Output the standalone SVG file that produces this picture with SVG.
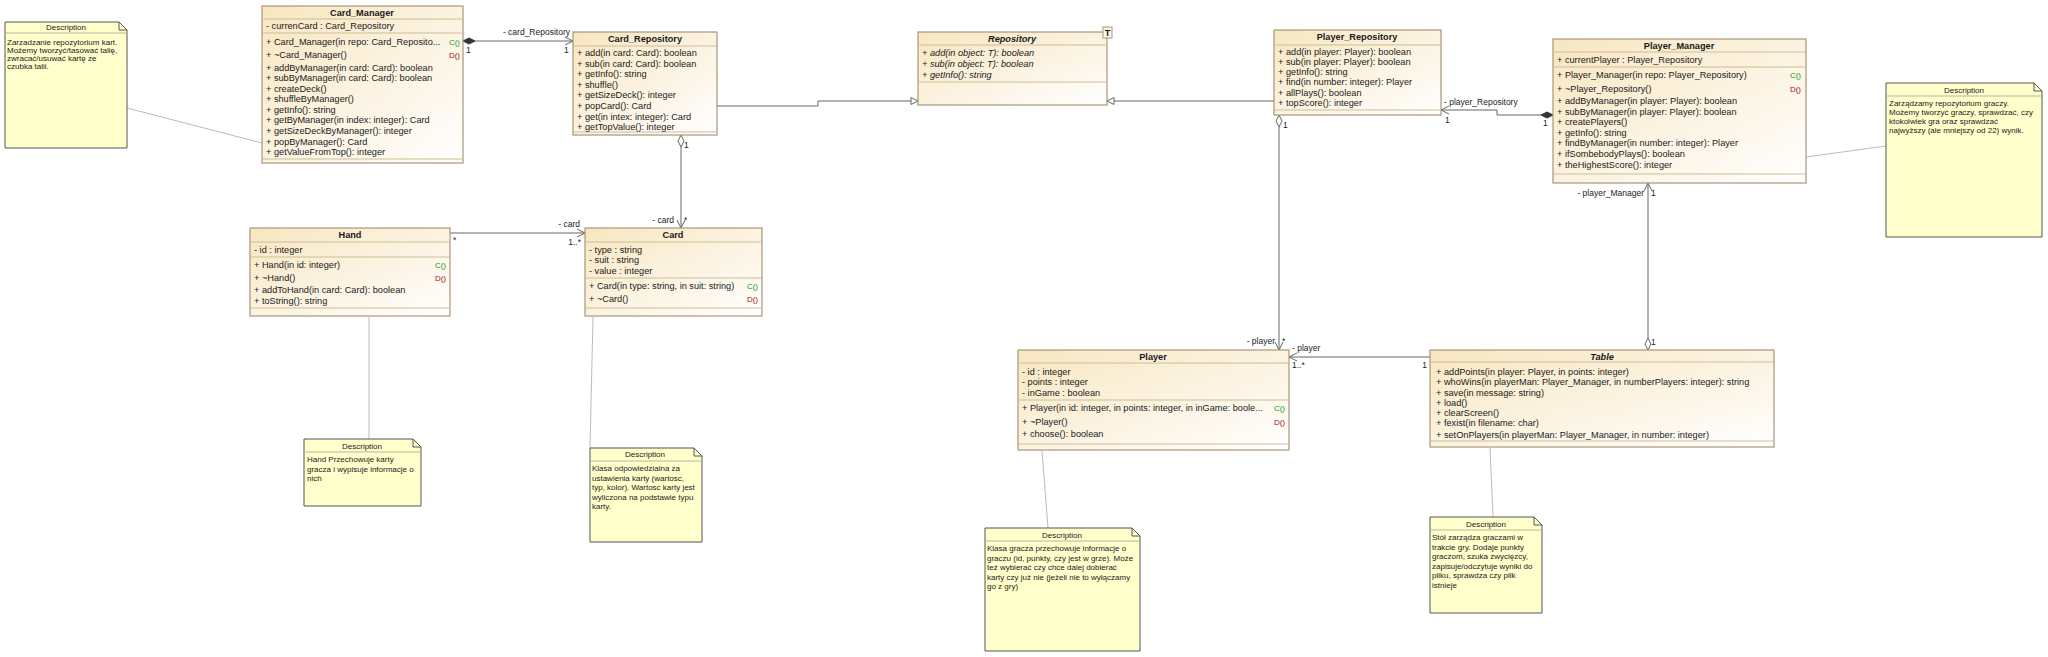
<svg xmlns="http://www.w3.org/2000/svg" width="2048" height="657" viewBox="0 0 2048 657">
<defs>
<linearGradient id="g" x1="0" y1="0" x2="1" y2="1">
<stop offset="0" stop-color="#F8E6C0"/>
<stop offset="1" stop-color="#FFFFFF"/>
</linearGradient>
<style>
.cls{fill:url(#g);stroke:#A8977A;stroke-width:1.2}
.sep{stroke:#CDBD98;stroke-width:1}
.t{font-family:"Liberation Sans",Arial,sans-serif;font-size:9.2px;fill:#1a1a1a}
.b{font-weight:bold}
.i{font-style:italic}
.c{text-anchor:middle}
.e{text-anchor:end}
.cc{font-family:"Liberation Sans",Arial,sans-serif;font-size:8px;fill:#119911;text-anchor:end}
.dd{font-family:"Liberation Sans",Arial,sans-serif;font-size:8px;fill:#A01010;text-anchor:end}
.note{fill:#FFFFCC;stroke:#555;stroke-width:1}
.nsep{stroke:#B8B89A;stroke-width:1}
.nt{font-family:"Liberation Sans",Arial,sans-serif;font-size:8px;fill:#1a1a1a}
.cn{stroke:#666;stroke-width:1;fill:none}
.lk{stroke:#BBBBBB;stroke-width:1;fill:none}
.lb{font-family:"Liberation Sans",Arial,sans-serif;font-size:8.5px;fill:#222}
</style>
</defs>
<rect width="2048" height="657" fill="#FFFFFF"/>

<g id="connectors">
<line class="lk" x1="127" y1="108" x2="262" y2="143"/>
<line class="lk" x1="369" y1="317" x2="369" y2="439"/>
<line class="lk" x1="593" y1="317" x2="590" y2="448"/>
<line class="lk" x1="1042" y1="451" x2="1048" y2="528"/>
<line class="lk" x1="1490" y1="448" x2="1493" y2="517"/>
<line class="lk" x1="1806" y1="157" x2="1886" y2="146"/>

<line class="cn" x1="475" y1="41" x2="573" y2="41"/>
<polygon points="463,41 469,38 475,41 469,44" fill="#333" stroke="#333"/>
<polyline class="cn" points="565,37 573,41 565,45"/>
<text class="lb e" x="570" y="35">- card_Repository</text>
<text class="lb" x="466" y="53">1</text>
<text class="lb" x="564" y="53">1</text>

<polyline class="cn" points="717,106 818,106 818,101 911,101"/>
<polygon points="918,101 911,97.5 911,104.5" fill="#fff" stroke="#666"/>

<line class="cn" x1="1274" y1="101" x2="1114" y2="101"/>
<polygon points="1107,101 1114,97.5 1114,104.5" fill="#fff" stroke="#666"/>

<line class="cn" x1="681" y1="147" x2="681" y2="228"/>
<polygon points="681,135 684,141 681,147 678,141" fill="#fff" stroke="#666"/>
<polyline class="cn" points="677,220 681,228 685,220"/>
<text class="lb" x="684" y="148">1</text>
<text class="lb e" x="674" y="223">- card</text>
<text class="lb" x="684" y="223">*</text>

<line class="cn" x1="450" y1="233" x2="585" y2="233"/>
<polyline class="cn" points="577,229 585,233 577,237"/>
<text class="lb" x="453" y="243">*</text>
<text class="lb e" x="580" y="227">- card</text>
<text class="lb e" x="581" y="245">1..*</text>

<line class="cn" x1="1279" y1="127" x2="1279" y2="350"/>
<polygon points="1279,115 1282,121 1279,127 1276,121" fill="#fff" stroke="#666"/>
<polyline class="cn" points="1275,342 1279,350 1283,342"/>
<text class="lb" x="1283" y="128">1</text>
<text class="lb e" x="1275" y="344">- player</text>
<text class="lb" x="1282" y="344">*</text>

<polyline class="cn" points="1441,110 1497,110 1497,115 1541,115"/>
<polygon points="1553,115 1547,112 1541,115 1547,118" fill="#333" stroke="#333"/>
<polyline class="cn" points="1449,106 1441,110 1449,114"/>
<text class="lb" x="1444" y="105">- player_Repository</text>
<text class="lb" x="1445" y="123">1</text>
<text class="lb" x="1543" y="126">1</text>

<line class="cn" x1="1648" y1="183" x2="1648" y2="338"/>
<polygon points="1648,350 1651,344 1648,338 1645,344" fill="#fff" stroke="#666"/>
<polyline class="cn" points="1644,191 1648,183 1652,191"/>
<text class="lb e" x="1644" y="196">- player_Manager</text>
<text class="lb" x="1651" y="196">1</text>
<text class="lb" x="1651" y="345">1</text>

<line class="cn" x1="1430" y1="357" x2="1289" y2="357"/>
<polyline class="cn" points="1297,353 1289,357 1297,361"/>
<text class="lb" x="1292" y="351">- player</text>
<text class="lb" x="1292" y="368">1..*</text>
<text class="lb e" x="1427" y="368">1</text>
</g>

<g id="note_card_manager">
<path class="note" d="M5,22 H119 L127,30 V148 H5 Z"/>
<polyline points="119,22 119,30 127,30" fill="none" stroke="#555"/>
<line class="nsep" x1="5" y1="33" x2="127" y2="33"/>
<text class="nt c" x="66" y="30">Description</text>
<text class="nt" x="7" y="45">Zarzadzanie repozytorium kart.</text>
<text class="nt" x="7" y="53">Możemy tworzyć/tasować talię,</text>
<text class="nt" x="7" y="61">zwracać/usuwać kartę ze</text>
<text class="nt" x="7" y="69">czubka talii.</text>
</g>

<g id="note_hand">
<path class="note" d="M304,439 H413 L421,447 V506 H304 Z"/>
<polyline points="413,439 413,447 421,447" fill="none" stroke="#555"/>
<line class="nsep" x1="304" y1="452" x2="421" y2="452"/>
<text class="nt c" x="362" y="449">Description</text>
<text class="nt" x="307" y="462">Hand Przechowuje karty</text>
<text class="nt" x="307" y="471.5">gracza i wypisuje informacje o</text>
<text class="nt" x="307" y="481">nich</text>
</g>

<g id="note_card">
<path class="note" d="M590,448 H694 L702,456 V542 H590 Z"/>
<polyline points="694,448 694,456 702,456" fill="none" stroke="#555"/>
<line class="nsep" x1="590" y1="461" x2="702" y2="461"/>
<text class="nt c" x="645" y="457">Description</text>
<text class="nt" x="592" y="471">Klasa odpowiedzialna za</text>
<text class="nt" x="592" y="480.5">ustawienia karty (wartosc,</text>
<text class="nt" x="592" y="490">typ, kolor). Wartosc karty jest</text>
<text class="nt" x="592" y="499.5">wyliczona na podstawie typu</text>
<text class="nt" x="592" y="509">karty.</text>
</g>

<g id="note_player">
<path class="note" d="M985,528 H1132 L1140,536 V651 H985 Z"/>
<polyline points="1132,528 1132,536 1140,536" fill="none" stroke="#555"/>
<line class="nsep" x1="985" y1="541" x2="1140" y2="541"/>
<text class="nt c" x="1062" y="538">Description</text>
<text class="nt" x="987" y="551">Klasa gracza przechowuje informacje o</text>
<text class="nt" x="987" y="560.5">graczu (id, punkty, czy jest w grze). Może</text>
<text class="nt" x="987" y="570">też wybierać czy chce dalej dobierać</text>
<text class="nt" x="987" y="579.5">karty czy już nie (jeżeli nie to wyłączamy</text>
<text class="nt" x="987" y="589">go z gry)</text>
</g>

<g id="note_table">
<path class="note" d="M1430,517 H1534 L1542,525 V613 H1430 Z"/>
<polyline points="1534,517 1534,525 1542,525" fill="none" stroke="#555"/>
<line class="nsep" x1="1430" y1="530" x2="1542" y2="530"/>
<text class="nt c" x="1486" y="527">Description</text>
<text class="nt" x="1432" y="540">Stół zarządza graczami w</text>
<text class="nt" x="1432" y="549.5">trakcie gry. Dodaje punkty</text>
<text class="nt" x="1432" y="559">graczom, szuka zwycięzcy,</text>
<text class="nt" x="1432" y="568.5">zapisuje/odczytuje wyniki do</text>
<text class="nt" x="1432" y="578">pliku, sprawdza czy plik</text>
<text class="nt" x="1432" y="587.5">istnieje</text>
</g>

<g id="note_player_manager">
<path class="note" d="M1886,83 H2034 L2042,91 V237 H1886 Z"/>
<polyline points="2034,83 2034,91 2042,91" fill="none" stroke="#555"/>
<line class="nsep" x1="1886" y1="96" x2="2042" y2="96"/>
<text class="nt c" x="1964" y="93">Description</text>
<text class="nt" x="1889" y="106">Zarządzamy repozytorium graczy.</text>
<text class="nt" x="1889" y="115">Możemy tworzyć graczy, sprawdzać, czy</text>
<text class="nt" x="1889" y="124">ktokolwiek gra oraz sprawdzać</text>
<text class="nt" x="1889" y="133">najwyższy  (ale mniejszy od 22) wynik.</text>
</g>

<g id="Card_Manager">
<rect class="cls" x="262" y="6" width="201" height="157"/>
<line class="sep" x1="262" y1="19" x2="463" y2="19"/>
<line class="sep" x1="262" y1="33" x2="463" y2="33"/>
<line class="sep" x1="262" y1="159" x2="463" y2="159"/>
<text class="t b c" x="362" y="16">Card_Manager</text>
<text class="t" x="266" y="29">- currenCard : Card_Repository</text>
<text class="t" x="266" y="45">+ Card_Manager(in repo: Card_Reposito...</text>
<text class="cc" x="460" y="45">C()</text>
<text class="t" x="266" y="58">+ ~Card_Manager()</text>
<text class="dd" x="460" y="58">D()</text>
<text class="t" x="266" y="71">+ addByManager(in card: Card): boolean</text>
<text class="t" x="266" y="81">+ subByManager(in card: Card): boolean</text>
<text class="t" x="266" y="91.5">+ createDeck()</text>
<text class="t" x="266" y="102">+ shuffleByManager()</text>
<text class="t" x="266" y="112.5">+ getInfo(): string</text>
<text class="t" x="266" y="123">+ getByManager(in index: integer): Card</text>
<text class="t" x="266" y="134">+ getSizeDeckByManager(): integer</text>
<text class="t" x="266" y="144.5">+ popByManager(): Card</text>
<text class="t" x="266" y="155">+ getValueFromTop(): integer</text>
</g>

<g id="Card_Repository">
<rect class="cls" x="573" y="32" width="144" height="103"/>
<line class="sep" x1="573" y1="46" x2="717" y2="46"/>
<line class="sep" x1="573" y1="132" x2="717" y2="132"/>
<text class="t b c" x="645" y="42">Card_Repository</text>
<text class="t" x="577" y="56">+ add(in card: Card): boolean</text>
<text class="t" x="577" y="66.5">+ sub(in card: Card): boolean</text>
<text class="t" x="577" y="77">+ getInfo(): string</text>
<text class="t" x="577" y="87.5">+ shuffle()</text>
<text class="t" x="577" y="98">+ getSizeDeck(): integer</text>
<text class="t" x="577" y="108.5">+ popCard(): Card</text>
<text class="t" x="577" y="119.5">+ get(in intex: integer): Card</text>
<text class="t" x="577" y="130">+ getTopValue(): integer</text>
</g>

<g id="Repository">
<rect class="cls" x="918" y="32" width="189" height="73"/>
<line class="sep" x1="918" y1="45" x2="1107" y2="45"/>
<line class="sep" x1="918" y1="82" x2="1107" y2="82"/>
<text class="t b i c" x="1012" y="42">Repository</text>
<text class="t i" x="922" y="56">+ add(in object: T): boolean</text>
<text class="t i" x="922" y="67">+ sub(in object: T): boolean</text>
<text class="t i" x="922" y="78">+ getInfo(): string</text>
<rect x="1103" y="27" width="9" height="11" fill="#FFF8E8" stroke="#A8977A" stroke-width="1"/>
<text class="t b c" x="1107.5" y="36">T</text>
</g>

<g id="Player_Repository">
<rect class="cls" x="1274" y="30" width="167" height="85"/>
<line class="sep" x1="1274" y1="45" x2="1441" y2="45"/>
<line class="sep" x1="1274" y1="110" x2="1441" y2="110"/>
<text class="t b c" x="1357" y="40">Player_Repository</text>
<text class="t" x="1278" y="55">+ add(in player: Player): boolean</text>
<text class="t" x="1278" y="65">+ sub(in player: Player): boolean</text>
<text class="t" x="1278" y="75">+ getInfo(): string</text>
<text class="t" x="1278" y="85">+ find(in number: integer): Player</text>
<text class="t" x="1278" y="96">+ allPlays(): boolean</text>
<text class="t" x="1278" y="106">+ topScore(): integer</text>
</g>

<g id="Player_Manager">
<rect class="cls" x="1553" y="39" width="253" height="144"/>
<line class="sep" x1="1553" y1="52" x2="1806" y2="52"/>
<line class="sep" x1="1553" y1="67" x2="1806" y2="67"/>
<line class="sep" x1="1553" y1="174" x2="1806" y2="174"/>
<text class="t b c" x="1679" y="49">Player_Manager</text>
<text class="t" x="1557" y="63">+ currentPlayer : Player_Repository</text>
<text class="t" x="1557" y="78">+ Player_Manager(in repo: Player_Repository)</text>
<text class="cc" x="1801" y="78">C()</text>
<text class="t" x="1557" y="92">+ ~Player_Repository()</text>
<text class="dd" x="1801" y="92">D()</text>
<text class="t" x="1557" y="104">+ addByManager(in player: Player): boolean</text>
<text class="t" x="1557" y="115">+ subByManager(in player: Player): boolean</text>
<text class="t" x="1557" y="125">+ createPlayers()</text>
<text class="t" x="1557" y="135.5">+ getInfo(): string</text>
<text class="t" x="1557" y="146">+ findByManager(in number: integer): Player</text>
<text class="t" x="1557" y="157">+ ifSombebodyPlays(): boolean</text>
<text class="t" x="1557" y="167.5">+ theHighestScore(): integer</text>
</g>

<g id="Hand">
<rect class="cls" x="250" y="228" width="200" height="88"/>
<line class="sep" x1="250" y1="242" x2="450" y2="242"/>
<line class="sep" x1="250" y1="257" x2="450" y2="257"/>
<line class="sep" x1="250" y1="308" x2="450" y2="308"/>
<text class="t b c" x="350" y="237.5">Hand</text>
<text class="t" x="254" y="252.5">- id : integer</text>
<text class="t" x="254" y="268">+ Hand(in id: integer)</text>
<text class="cc" x="446" y="268">C()</text>
<text class="t" x="254" y="281">+ ~Hand()</text>
<text class="dd" x="446" y="281">D()</text>
<text class="t" x="254" y="293">+ addToHand(in card: Card): boolean</text>
<text class="t" x="254" y="304">+ toString(): string</text>
</g>

<g id="Card">
<rect class="cls" x="585" y="228" width="177" height="88"/>
<line class="sep" x1="585" y1="242" x2="762" y2="242"/>
<line class="sep" x1="585" y1="278" x2="762" y2="278"/>
<line class="sep" x1="585" y1="308" x2="762" y2="308"/>
<text class="t b c" x="673" y="237.5">Card</text>
<text class="t" x="589" y="252.5">- type : string</text>
<text class="t" x="589" y="263">- suit : string</text>
<text class="t" x="589" y="273.5">- value : integer</text>
<text class="t" x="589" y="289">+ Card(in type: string, in suit: string)</text>
<text class="cc" x="758" y="289">C()</text>
<text class="t" x="589" y="302">+ ~Card()</text>
<text class="dd" x="758" y="302">D()</text>
</g>

<g id="Player">
<rect class="cls" x="1018" y="350" width="271" height="100"/>
<line class="sep" x1="1018" y1="363" x2="1289" y2="363"/>
<line class="sep" x1="1018" y1="400" x2="1289" y2="400"/>
<line class="sep" x1="1018" y1="444" x2="1289" y2="444"/>
<text class="t b c" x="1153" y="360">Player</text>
<text class="t" x="1022" y="374.5">- id : integer</text>
<text class="t" x="1022" y="385">- points : integer</text>
<text class="t" x="1022" y="395.5">- inGame : boolean</text>
<text class="t" x="1022" y="411">+ Player(in id: integer, in points: integer, in inGame: boole...</text>
<text class="cc" x="1285" y="411">C()</text>
<text class="t" x="1022" y="425">+ ~Player()</text>
<text class="dd" x="1285" y="425">D()</text>
<text class="t" x="1022" y="436.5">+ choose(): boolean</text>
</g>

<g id="Table">
<rect class="cls" x="1430" y="350" width="344" height="97"/>
<line class="sep" x1="1430" y1="362" x2="1774" y2="362"/>
<line class="sep" x1="1430" y1="441" x2="1774" y2="441"/>
<text class="t b i c" x="1602" y="360">Table</text>
<text class="t" x="1436" y="375">+ addPoints(in player: Player, in points: integer)</text>
<text class="t" x="1436" y="385">+ whoWins(in playerMan: Player_Manager, in numberPlayers: integer): string</text>
<text class="t" x="1436" y="395.5">+ save(in message: string)</text>
<text class="t" x="1436" y="405.5">+ load()</text>
<text class="t" x="1436" y="415.5">+ clearScreen()</text>
<text class="t" x="1436" y="425.5">+ fexist(in filename: char)</text>
<text class="t" x="1436" y="437.5">+ setOnPlayers(in playerMan: Player_Manager, in number: integer)</text>
</g>
</svg>
